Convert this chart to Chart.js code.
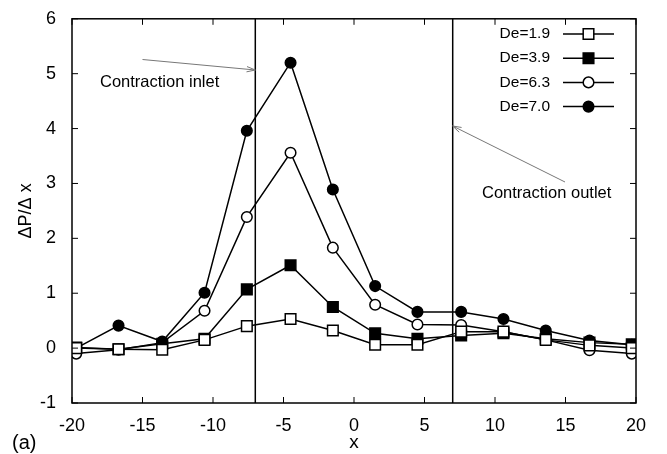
<!DOCTYPE html>
<html><head><meta charset="utf-8">
<script src="https://cdn.jsdelivr.net/npm/chart.js@4/dist/chart.umd.min.js"></script>
<style>html,body{margin:0;padding:0;background:#fff}#wrap{width:667px;height:454px}</style>
</head><body><div id="wrap"><canvas id="c" width="667" height="454"></canvas></div>
<script>
const xPos = [-19.7,-16.7,-13.6,-10.6,-7.6,-4.5,-1.5,1.5,4.5,7.6,10.6,13.6,16.7,19.7];
const de19 = [0.00,-0.02,-0.03,0.15,0.40,0.53,0.32,0.06,0.06,0.30,0.30,0.15,0.05,0.00];
const de39 = [0.01,-0.02,0.08,0.17,1.07,1.51,0.75,0.27,0.17,0.23,0.27,0.17,0.10,0.07];
const de63 = [-0.10,-0.03,0.10,0.68,2.39,3.56,1.83,0.79,0.43,0.42,0.30,0.15,-0.04,-0.10];
const de70 = [0.00,0.41,0.12,1.01,3.96,5.20,2.89,1.13,0.66,0.66,0.53,0.32,0.14,0.06];
const seriesLabels = ['De=1.9','De=3.9','De=6.3','De=7.0'];
const contractionX = [-7, 7];
const xTicks = [-20,-15,-10,-5,0,5,10,15,20];
const yTicks = [-1,0,1,2,3,4,5,6];

const FONT = '"Liberation Sans", Arial, sans-serif';
const toPts = arr => arr.map((v,i)=>({x:xPos[i], y:v}));
const styles = [
  {ps:'rect', r:7.5, fill:'#fff'},
  {ps:'rect', r:7.5, fill:'#000'},
  {ps:'circle', r:5.3, fill:'#fff'},
  {ps:'circle', r:5.3, fill:'#000'}
];
const allData = [de19, de39, de63, de70];
const datasets = allData.map((d,i)=>({
  label: seriesLabels[i], data: toPts(d),
  borderColor:'#000', borderWidth:1.5,
  pointStyle: styles[i].ps, pointRadius: styles[i].r, pointHoverRadius: styles[i].r,
  pointBackgroundColor: styles[i].fill, pointBorderColor:'#000', pointBorderWidth:1.5,
  tension:0, fill:false
}));

function arrow(ctx, x1,y1,x2,y2){
  ctx.save(); ctx.strokeStyle='#777'; ctx.lineWidth=1;
  ctx.beginPath(); ctx.moveTo(x1,y1); ctx.lineTo(x2,y2); ctx.stroke();
  const a = Math.atan2(y2-y1,x2-x1), L=9, w=0.3;
  ctx.beginPath();
  ctx.moveTo(x2-L*Math.cos(a-w), y2-L*Math.sin(a-w));
  ctx.lineTo(x2,y2);
  ctx.lineTo(x2-L*Math.cos(a+w), y2-L*Math.sin(a+w));
  ctx.stroke(); ctx.restore();
}

const deco = {
  id:'deco',
  afterDatasetsDraw(chart){
    const {ctx, chartArea:ca, scales:{x,y}} = chart;
    ctx.save();
    ctx.strokeStyle='#000'; ctx.lineWidth=1.5;
    ctx.strokeRect(ca.left, ca.top, ca.right-ca.left, ca.bottom-ca.top);
    ctx.lineWidth=1;
    xTicks.forEach(v=>{const p=x.getPixelForValue(v);
      ctx.beginPath(); ctx.moveTo(p,ca.bottom); ctx.lineTo(p,ca.bottom-6);
      ctx.moveTo(p,ca.top); ctx.lineTo(p,ca.top+6); ctx.stroke();});
    yTicks.forEach(v=>{const p=y.getPixelForValue(v);
      ctx.beginPath(); ctx.moveTo(ca.left,p); ctx.lineTo(ca.left+6,p);
      ctx.moveTo(ca.right,p); ctx.lineTo(ca.right-6,p); ctx.stroke();});
    ctx.lineWidth=1.5;
    contractionX.forEach(v=>{const p=x.getPixelForValue(v);
      ctx.beginPath(); ctx.moveTo(p,ca.top); ctx.lineTo(p,ca.bottom); ctx.stroke();});
    ctx.fillStyle='#000'; ctx.font='16.5px '+FONT; ctx.textBaseline='middle';
    ctx.textAlign='left';
    ctx.fillText('Contraction inlet', 100, 82);
    ctx.fillText('Contraction outlet', 482, 193);
    arrow(ctx, 142.5, 59.5, x.getPixelForValue(contractionX[0]), 70);
    arrow(ctx, 565, 182, x.getPixelForValue(contractionX[1]), 126);
    ctx.font='15.5px '+FONT;
    seriesLabels.forEach((lab,i)=>{
      const ly = 34 + i*24.2;
      ctx.textAlign='right'; ctx.fillStyle='#000';
      ctx.fillText(lab, 550, ly);
      ctx.strokeStyle='#000'; ctx.lineWidth=1.5;
      ctx.beginPath(); ctx.moveTo(563, ly); ctx.lineTo(614, ly); ctx.stroke();
      ctx.save(); ctx.fillStyle=styles[i].fill; ctx.lineWidth=1.5;
      ctx.beginPath();
      if(styles[i].ps==='circle'){ ctx.arc(588.5, ly, styles[i].r, 0, Math.PI*2); }
      else { const s=styles[i].r*Math.SQRT1_2; ctx.rect(588.5-s, ly-s, 2*s, 2*s); }
      ctx.fill(); ctx.stroke(); ctx.restore();
    });
    ctx.textAlign='left'; ctx.fillStyle='#000'; ctx.font='20px '+FONT;
    ctx.fillText('(a)', 12, 443);
    ctx.restore();
  }
};

new Chart(document.getElementById('c'), {
  type:'line',
  data:{datasets},
  options:{
    responsive:false, animation:false, devicePixelRatio:1,
    layout:{padding:{left:0, right:31, top:15, bottom:0}},
    plugins:{legend:{display:false}, tooltip:{enabled:false}},
    scales:{
      x:{type:'linear', min:-20, max:20,
        afterBuildTicks(s){ s.ticks = xTicks.map(v=>({value:v})); },
        afterFit(s){ s.height = 51; },
        grid:{display:false}, border:{display:false},
        ticks:{color:'#000', font:{family:FONT, size:18}, padding:4, maxRotation:0},
        title:{display:true, text:'x', color:'#000', font:{family:FONT, size:19}, padding:{top:0,bottom:0}}
      },
      y:{type:'linear', min:-1, max:6,
        afterBuildTicks(s){ s.ticks = yTicks.map(v=>({value:v})); },
        afterFit(s){ s.width = 72; },
        grid:{display:false}, border:{display:false},
        ticks:{color:'#000', font:{family:FONT, size:18}, padding:8},
        title:{display:true, text:'ΔP/Δ x', color:'#000', font:{family:FONT, size:18}, padding:{top:15,bottom:0}}
      }
    }
  },
  plugins:[deco]
});
</script></body></html>
